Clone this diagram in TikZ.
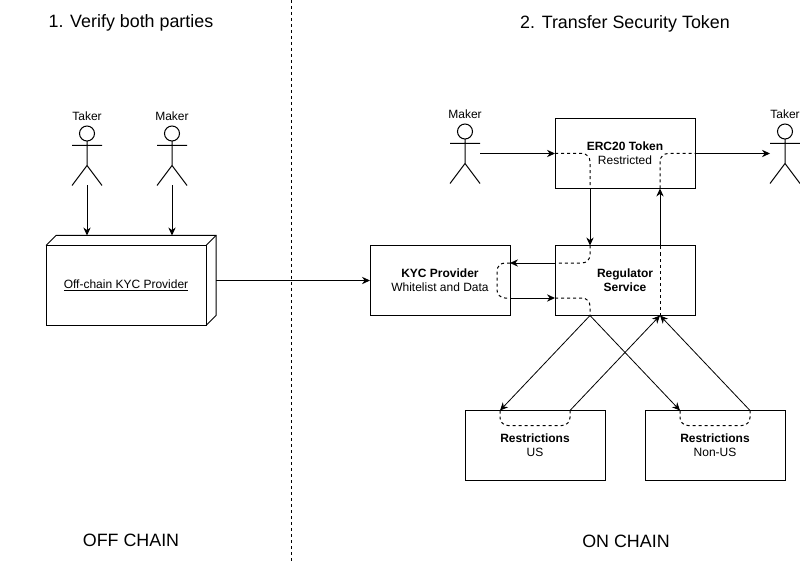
\documentclass[tikz,border=0pt]{standalone}
\usepackage{fontspec}
\setmainfont{Liberation Sans}
\usepackage{tikz}
\usetikzlibrary{arrows.meta, positioning, calc}

% stick figure: name, x, y, label
\newcommand{\actor}[4]{%
    \node (#1) [actor] at (#2,#3) {};
    \node (#1label) [small, above=3pt of #1] {#4};
    \draw[shift={(#1.center)}] (0,-22) circle (7.5)
        (0,-14.5) -- (0,10) -- (-15,30)
        (0,10) -- (15,30)
        (-15,-10) -- (15,-10);
}

\begin{document}
\begin{tikzpicture}[
    x=0.75pt,
    y=-0.75pt,
    line width=0.75pt,
    block/.style={
        rectangle,
        draw,
        minimum width=105pt,
        minimum height=52.5pt,
        inner sep=0pt,
        outer sep=0pt,
        align=center,
        font=\fontsize{9}{10.5}\selectfont
    },
    small/.style={
        inner sep=0pt,
        font=\fontsize{9}{10.5}\selectfont
    },
    title/.style={
        inner sep=0pt,
        font=\fontsize{13.4}{16}\selectfont
    },
    actor/.style={
        rectangle,
        minimum width=22.5pt,
        minimum height=45pt,
        inner sep=0pt,
        outer sep=0pt
    },
    arrow/.style={-{Stealth[length=6pt,width=5.5pt]}},
    pass/.style={dash pattern=on 2.25pt off 2.25pt, rounded corners=6pt}
]
\useasboundingbox (0,0) rectangle (800,563);

% Headings
\node (verify) [title] at (131,22.5) {1. Verify both parties};
\node (transfer) [title] at (625,23.5) {2. Transfer Security Token};
\node (offchainlabel) [title] at (131,540) {OFF CHAIN};
\node (onchainlabel) [title] at (626,541) {ON CHAIN};

% Divider
\coordinate (dividertop) at (291,0);
\coordinate (dividerbottom) at (291,563);
\draw[dash pattern=on 2.25pt off 2.25pt] (dividertop) -- (dividerbottom);

% Actors
\actor{takerleft}{87}{155.5}{Taker}
\actor{makerleft}{172}{155.5}{Maker}
\actor{makerright}{465}{153.5}{Maker}
\actor{takerright}{785}{153.5}{Taker}

% Off chain provider
\node (offchain) [block, minimum width=120pt, minimum height=60pt] at (126,285.5)
    {\underline{Off-chain KYC Provider}};
\draw (offchain.north west) -- ++(10,-10) -- ++(160,0) -- ++(0,80)
    -- (offchain.south east);
\draw (offchain.north east) -- ++(10,-10);
\coordinate (offchaintop) at ($(offchain.north)+(0,-10)$);
\coordinate (offchainback) at ($(offchain.east)+(10,0)$);

% On chain blocks
\node (erc) [block] at (625,153.5)
    {\textbf{ERC20 Token}\\Restricted};
\node (regulator) [block, below=42.75pt of erc]
    {\textbf{Regulator}\\\textbf{Service}};
\node (kyc) [block, left=33.75pt of regulator]
    {\textbf{KYC Provider}\\Whitelist and Data};
\node (us) [block] at (535,445.5)
    {\textbf{Restrictions}\\US};
\node (nonus) [block, right=30pt of us]
    {\textbf{Restrictions}\\Non-US};

% Points on the block borders
\coordinate (ercin) at ($(erc.south west)!.25!(erc.south east)$);
\coordinate (ercout) at ($(erc.south west)!.75!(erc.south east)$);
\coordinate (regtopin) at ($(regulator.north west)!.25!(regulator.north east)$);
\coordinate (regtopout) at ($(regulator.north west)!.75!(regulator.north east)$);
\coordinate (regbotin) at ($(regulator.south west)!.25!(regulator.south east)$);
\coordinate (regbotout) at ($(regulator.south west)!.75!(regulator.south east)$);
\coordinate (regwestin) at ($(regulator.north west)!.25!(regulator.south west)$);
\coordinate (regwestout) at ($(regulator.north west)!.75!(regulator.south west)$);
\coordinate (kycin) at ($(kyc.north east)!.25!(kyc.south east)$);
\coordinate (kycout) at ($(kyc.north east)!.75!(kyc.south east)$);
\coordinate (usin) at ($(us.north west)!.25!(us.north east)$);
\coordinate (usout) at ($(us.north west)!.75!(us.north east)$);
\coordinate (nonusin) at ($(nonus.north west)!.25!(nonus.north east)$);
\coordinate (nonusout) at ($(nonus.north west)!.75!(nonus.north east)$);

% Verification arrows
\draw[arrow] (takerleft.south) -- (takerleft.south |- offchaintop);
\draw[arrow] (makerleft.south) -- (makerleft.south |- offchaintop);
\draw[arrow] (offchainback |- kyc.west) -- (kyc.west);

% Token route, inbound
\draw[arrow] (makerright) -- (erc.west);
\draw[pass] (erc.west) -| (ercin);
\draw[arrow] (ercin) -- (regtopin);
\draw[pass] (regtopin) |- (regwestin);
\draw[arrow] (regwestin) -- (kycin);
\draw[pass] (kycin) -- ++(-13,0) -- ++(0,35) -- (kycout);
\draw[arrow] (kycout) -- (regwestout);
\draw[pass] (regwestout) -| (regbotin);

% Restriction checks
\draw[arrow, line width=0.6pt] (regbotin) -- (usin);
\draw[arrow, line width=0.6pt] (regbotin) -- (nonusin);
\draw[pass] (usin) -- ++(0,15) -- ++(70,0) -- (usout);
\draw[pass] (nonusin) -- ++(0,15) -- ++(70,0) -- (nonusout);
\draw[arrow, line width=0.6pt] (usout) -- (regbotout);
\draw[arrow, line width=0.6pt] (nonusout) -- (regbotout);

% Token route, outbound
\draw[pass] (regbotout) -- (regtopout);
\draw[arrow] (regtopout) -- (ercout);
\draw[pass] (ercout) |- (erc.east);
\draw[arrow] (erc.east) -- (takerright);

\end{tikzpicture}
\end{document}
